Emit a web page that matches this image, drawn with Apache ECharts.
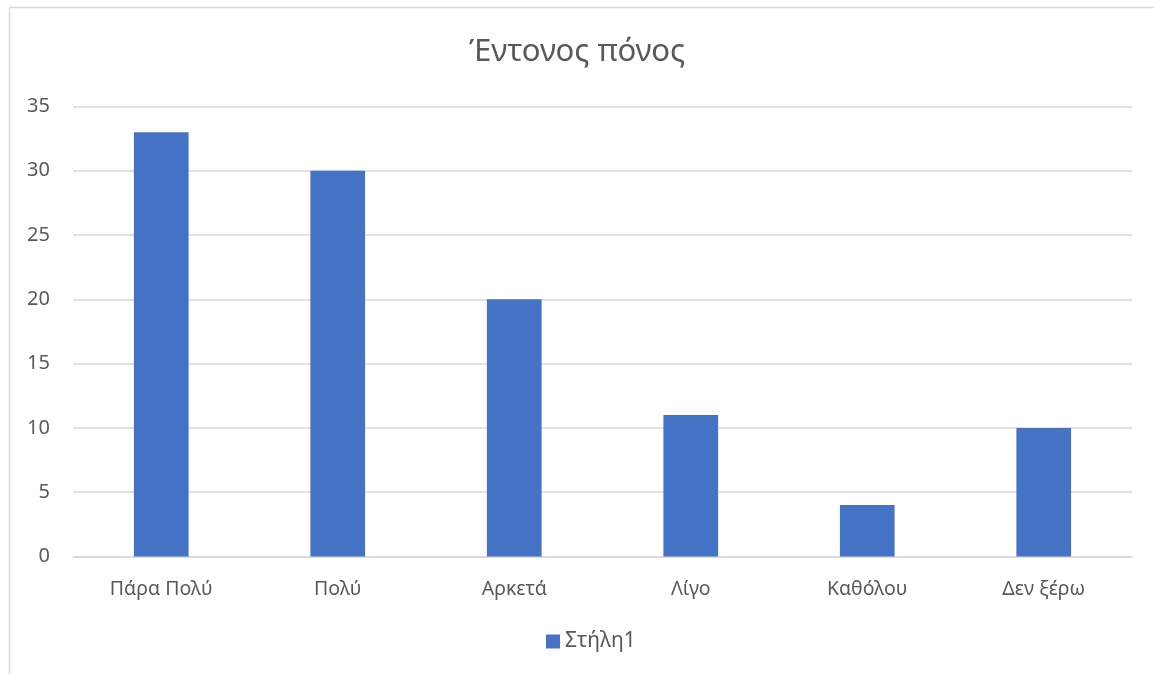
<!DOCTYPE html>
<html>
<head>
<meta charset="utf-8">
<script src="https://cdn.jsdelivr.net/npm/echarts@6/dist/echarts.min.js"></script>
<style>
  html, body { margin: 0; padding: 0; background: #fff; }
  #chart { width: 1154px; height: 674px; }
</style>
</head>
<body>
<div id="chart"></div>
<script>
// Responses per category
const categories = ['Πάρα Πολύ', 'Πολύ', 'Αρκετά', 'Λίγο', 'Καθόλου', 'Δεν ξέρω'];
const values = [33, 30, 20, 11, 4, 10];
const seriesName = 'Στήλη1';
const titleText = 'Έντονος πόνος';

const FONT = '"Noto Sans", "Open Sans", sans-serif';
const TEXT = '#595959';

const chart = echarts.init(document.getElementById('chart'), null, { renderer: 'canvas' });
chart.setOption({
  backgroundColor: '#ffffff',
  animation: false,
  title: {
    text: titleText,
    left: 'center',
    top: 32,
    textStyle: { fontFamily: FONT, fontSize: 31, fontWeight: 'normal', color: TEXT }
  },
  legend: {
    data: [seriesName],
    bottom: 22,
    left: 546,
    padding: 0,
    icon: 'rect',
    itemWidth: 14,
    itemHeight: 14,
    itemGap: 6,
    textStyle: { fontFamily: FONT, fontSize: 21, color: TEXT }
  },
  grid: { left: 73, right: 22, top: 106.5, bottom: 117.5, containLabel: false },
  xAxis: {
    type: 'category',
    data: categories,
    axisLine: { lineStyle: { color: '#d9d9d9', width: 1.5 } },
    axisTick: { show: false },
    axisLabel: { fontFamily: FONT, fontSize: 19.5, color: TEXT, margin: 23 }
  },
  yAxis: {
    type: 'value',
    min: 0,
    max: 35,
    interval: 5,
    axisLine: { show: false },
    axisTick: { show: false },
    splitLine: { lineStyle: { color: '#d9d9d9', width: 1.5 } },
    axisLabel: { fontFamily: FONT, fontSize: 20, color: TEXT, margin: 23 }
  },
  series: [{
    name: seriesName,
    type: 'bar',
    data: values,
    barWidth: '31%',
    itemStyle: { color: '#4472c4' }
  }],
  graphic: [
    { type: 'line', shape: { x1: 9, y1: 7.5, x2: 1154, y2: 7.5 }, style: { stroke: '#d9d9d9', lineWidth: 1.5 } },
    { type: 'line', shape: { x1: 9.5, y1: 7, x2: 9.5, y2: 674 }, style: { stroke: '#d9d9d9', lineWidth: 1.5 } }
  ]
});
</script>
</body>
</html>
